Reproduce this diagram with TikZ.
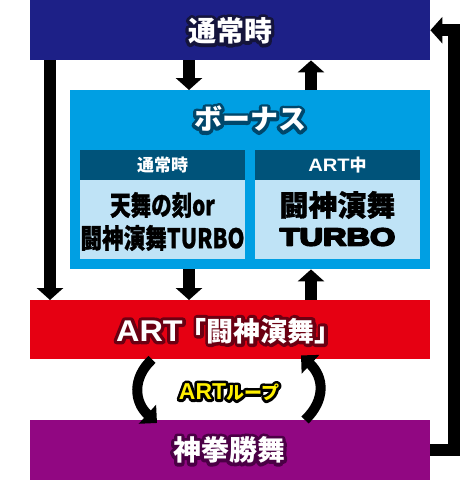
\documentclass[tikz,border=0pt]{standalone}
\usepackage{fontspec}
\newfontfamily\jp{Noto Sans CJK JP}
\newfontfamily\lat{Liberation Sans}
\usetikzlibrary{arrows.meta,calc}
\definecolor{navy}{HTML}{1D2087}
\definecolor{navyd}{HTML}{14143C}
\definecolor{bonusblue}{HTML}{009FE3}
\definecolor{bonusd}{HTML}{00476B}
\definecolor{hdr}{HTML}{00537A}
\definecolor{lightb}{HTML}{BFE3F6}
\definecolor{artred}{HTML}{E60012}
\definecolor{artd}{HTML}{6B0012}
\definecolor{purp}{HTML}{910782}
\definecolor{purpd}{HTML}{4B0045}
\definecolor{yel}{HTML}{FFF000}
% stroke+fill text (emboldening / outline)
\newcommand\heavy[2]{\special{pdf:literal direct 2 Tr #1 w 1 j 1 J}#2\special{pdf:literal direct 0 Tr 1 w}}
\newcommand\otext[6]{% name, pos, outline colour, fill colour, stroke width (bp), text
  \node[inner sep=0pt,text=#3] at (#2) {\heavy{#5}{#6}};
  \node[inner sep=0pt,text=#4] (#1) at (#2) {#6};}
\begin{document}
\begin{tikzpicture}[x=1pt,y=-1pt,
  bar/.style={draw=none, inner sep=0pt, anchor=north west},
  arr/.style={line width=12pt, -{Triangle[width=26pt,length=12pt]}},
  curv/.style={line width=10pt, -{Triangle[width=25pt,length=13pt]}},
  plain/.style={inner sep=0pt}]
\fill[white] (0,0) rectangle (460,480);
\useasboundingbox (0,0) rectangle (460,480);
% boxes
\node[bar, fill=navy, minimum width=400pt, minimum height=60pt] (top) at (30,0) {};
\node[bar, fill=bonusblue, minimum width=360pt, minimum height=179pt] (bonus) at (70,90) {};
\node[bar, fill=hdr, minimum width=165pt, minimum height=30pt] (hdrL) at (80,150) {};
\node[bar, fill=lightb, minimum width=165pt, minimum height=79pt] (bodyL) at (80,180) {};
\node[bar, fill=hdr, minimum width=165pt, minimum height=30pt] (hdrR) at (255,150) {};
\node[bar, fill=lightb, minimum width=165pt, minimum height=79pt] (bodyR) at (255,180) {};
\node[bar, fill=artred, minimum width=400pt, minimum height=59pt] (art) at (30,300) {};
\node[bar, fill=purp, minimum width=400pt, minimum height=60pt] (bottom) at (30,420) {};
% curved loop arrows
\draw[curv] ([xshift=122pt]art.south west) .. controls (132,378) and (134,402) .. ([xshift=127pt,yshift=-3pt]bottom.north west);
\draw[curv] ([xshift=275pt]bottom.north west) .. controls (326,400) and (324,377) .. ([xshift=271pt,yshift=4pt]art.south west);
% straight arrows
\draw[arr] ([xshift=20pt]top.south west) -- ([xshift=20pt]art.north west);
\draw[arr] ([xshift=159pt]top.south west) -- ([xshift=119pt]bonus.north west);
\draw[arr] ([xshift=241pt]bonus.north west) -- ([xshift=281pt]top.south west);
\draw[arr] ([xshift=119pt]bonus.south west) -- ([xshift=159pt]art.north west);
\draw[arr] ([xshift=281pt]art.north west) -- ([xshift=241pt]bonus.south west);
\draw[arr] (bottom.east) -- ++(24,0) |- (top.east);
% texts
\otext{ttop}{230,31}{navyd}{white}{6.5}{\jp\bfseries\fontsize{28}{28}\selectfont 通常時}
\otext{tbonus}{250,119}{bonusd}{white}{6.5}{\jp\bfseries\fontsize{28}{28}\selectfont ボーナス}
\node[plain, text=white] (hl) at (162.5,165) {\jp\bfseries\fontsize{17}{17}\selectfont 通常時};
\node[plain, text=white] (hr) at (337.5,165) {\scalebox{1.12}[1]{\lat\bfseries\fontsize{18}{18}\selectfont ART}\jp\bfseries\fontsize{17}{17}\selectfont 中};
\node[plain, text=black] (bl1) at (162.5,205) {\heavy{0.3}{\scalebox{0.76}[1]{\jp\bfseries\fontsize{27}{27}\selectfont 天舞の刻or}}};
\node[plain, text=black] (bl2) at (162.5,238) {\heavy{0.3}{\scalebox{0.8}[1]{\jp\bfseries\fontsize{27}{27}\selectfont 闘神演舞TURBO}}};
\node[plain, text=black] (br1) at (337.5,205) {\heavy{0.3}{\jp\bfseries\fontsize{29}{29}\selectfont 闘神演舞}};
\node[plain, text=black] (br2) at (337.5,237) {\heavy{1.6}{\scalebox{1.3}[1]{\lat\bfseries\fontsize{25}{25}\selectfont TURBO}}};
\otext{tart}{229,331}{artd}{white}{6.5}{\scalebox{1.08}[1]{\lat\bfseries\fontsize{30}{30}\selectfont ART}\hspace{-3pt}\jp\bfseries\fontsize{27}{27}\selectfont 「闘神演舞」}
\otext{tloop}{229,392}{black}{yel}{5.5}{\lat\bfseries\fontsize{23}{23}\selectfont ART\jp\fontsize{18}{18}\selectfont ループ}
\otext{tbot}{229,450}{purpd}{white}{6.5}{\jp\bfseries\fontsize{28}{28}\selectfont 神拳勝舞}
\end{tikzpicture}
\end{document}
